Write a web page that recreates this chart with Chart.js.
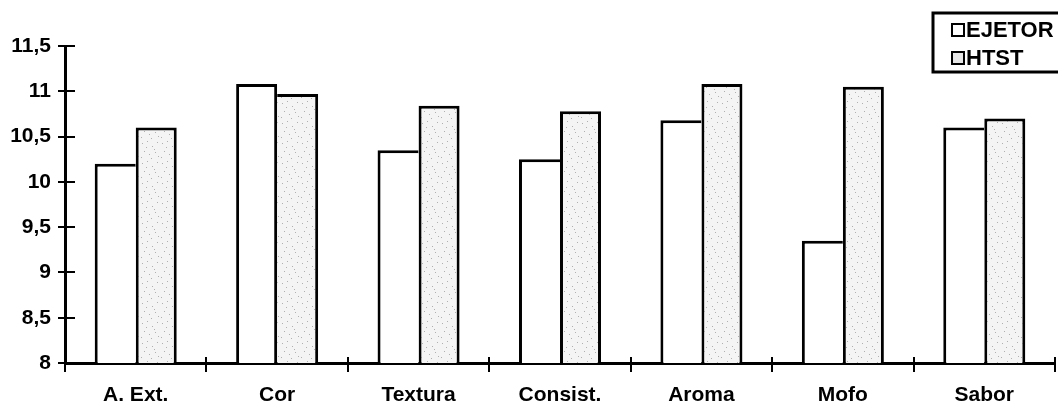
<!DOCTYPE html>
<html>
<head>
<meta charset="utf-8">
<script src="https://cdn.jsdelivr.net/npm/chart.js@4/dist/chart.umd.min.js"></script>
<style>
  html, body { margin: 0; padding: 0; background: #fff; }
  #wrap { width: 1058px; height: 412px; position: relative; }
</style>
</head>
<body>
<div id="wrap"><canvas id="c" width="1058" height="412"></canvas></div>
<script>
// Sensory attribute scores for the two processes
const categories = ['A. Ext.', 'Cor', 'Textura', 'Consist.', 'Aroma', 'Mofo', 'Sabor'];
const ejetor = [10.2, 11.08, 10.35, 10.25, 10.68, 9.35, 10.6];
const htst = [10.6, 10.97, 10.84, 10.78, 11.08, 11.05, 10.7];
const seriesNames = ['EJETOR', 'HTST'];
const yTickValues = [8, 8.5, 9, 9.5, 10, 10.5, 11, 11.5];

const FONT = 'Liberation Sans, Arial, sans-serif';

// Light stippled fill for the HTST bars
function stipple() {
  const c = document.createElement('canvas');
  c.width = 20; c.height = 20;
  const g = c.getContext('2d');
  g.fillStyle = '#f4f4f4';
  g.fillRect(0, 0, 20, 20);
  g.fillStyle = '#b0b0b0';
  const dots = [[2,3],[7,1],[12,6],[17,2],[4,11],[9,14],[15,12],[1,17],[11,18],[18,16],[6,7],[14,9]];
  dots.forEach(([x, y]) => g.fillRect(x, y, 1, 1));
  return g.createPattern(c, 'repeat');
}

function fmt(v) { return String(v).replace('.', ','); }

// Tick marks that cross both axes, plus the framed legend
const axisExtras = {
  id: 'axisExtras',
  afterDraw(chart) {
    const ctx = chart.ctx;
    const xs = chart.scales.x, ys = chart.scales.y;
    ctx.save();
    ctx.strokeStyle = '#000';
    ctx.lineWidth = 2;
    // inner stubs of y ticks
    ys.ticks.forEach((t, i) => {
      const y = Math.round(ys.getPixelForTick(i));
      ctx.beginPath();
      ctx.moveTo(ys.right, y);
      ctx.lineTo(ys.right + 10, y);
      ctx.stroke();
    });
    // inner stubs at category boundaries
    for (let i = 1; i <= categories.length; i++) {
      const x = (xs.getPixelForValue(i - 1) + xs.getPixelForValue(i)) / 2;
      const xb = i === categories.length ? xs.right : x;
      ctx.beginPath();
      ctx.moveTo(Math.round(xb), xs.top);
      ctx.lineTo(Math.round(xb), xs.top - 6);
      ctx.stroke();
    }
    // legend
    const lx = 933, ly = 13, lh = 59;
    ctx.lineWidth = 3;
    ctx.strokeRect(lx, ly, 140, lh);
    ctx.font = 'bold 22px ' + FONT;
    ctx.textBaseline = 'middle';
    chart.data.datasets.forEach((ds, i) => {
      const cy = ly + 17 + i * 28;
      ctx.fillStyle = i === 1 ? '#e6e6e6' : '#fff';
      ctx.fillRect(952, cy - 6, 12, 12);
      ctx.lineWidth = 2;
      ctx.strokeRect(952, cy - 6, 12, 12);
      ctx.fillStyle = '#000';
      ctx.fillText(ds.label, 966, cy + 1);
    });
    ctx.restore();
  }
};

const ctx = document.getElementById('c').getContext('2d');
new Chart(ctx, {
  type: 'bar',
  data: {
    labels: categories,
    datasets: [
      {
        label: seriesNames[0],
        data: ejetor,
        backgroundColor: '#fff',
        borderColor: '#000',
        borderWidth: (c) => ({ top: 3, left: 3, right: ejetor[c.dataIndex] > htst[c.dataIndex] ? 3 : 0, bottom: 0 }),
        borderSkipped: 'start',
        categoryPercentage: 0.58,
        barPercentage: 1.0
      },
      {
        label: seriesNames[1],
        data: htst,
        backgroundColor: stipple(),
        borderColor: '#000',
        borderWidth: (c) => ({ top: 3, right: 3, left: htst[c.dataIndex] >= ejetor[c.dataIndex] ? 3 : 0, bottom: 0 }),
        borderSkipped: 'start',
        categoryPercentage: 0.58,
        barPercentage: 1.0
      }
    ]
  },
  options: {
    responsive: false,
    animation: false,
    layout: { padding: { top: 46, right: 3, left: 0, bottom: 0 } },
    plugins: { legend: { display: false }, tooltip: { enabled: false } },
    scales: {
      x: {
        grid: { display: true, drawOnChartArea: false, drawTicks: true, tickLength: 9, color: '#000', lineWidth: 2, offset: true },
        border: { display: true, color: '#000', width: 3 },
        ticks: { color: '#000', font: { family: FONT, size: 21, weight: 'bold' }, padding: 11, maxRotation: 0 },
        afterFit: (s) => { s.height = 49; }
      },
      y: {
        min: 8,
        max: 11.5,
        afterBuildTicks: (s) => { s.ticks = yTickValues.map(v => ({ value: v })); },
        grid: { display: true, drawOnChartArea: false, drawTicks: true, tickLength: 7, color: '#000', lineWidth: 2 },
        border: { display: true, color: '#000', width: 3 },
        ticks: { color: '#000', font: { family: FONT, size: 21, weight: 'bold' }, padding: 7, callback: (v) => fmt(v) },
        afterFit: (s) => { s.width = 65; }
      }
    }
  },
  plugins: [axisExtras]
});
</script>
</body>
</html>
